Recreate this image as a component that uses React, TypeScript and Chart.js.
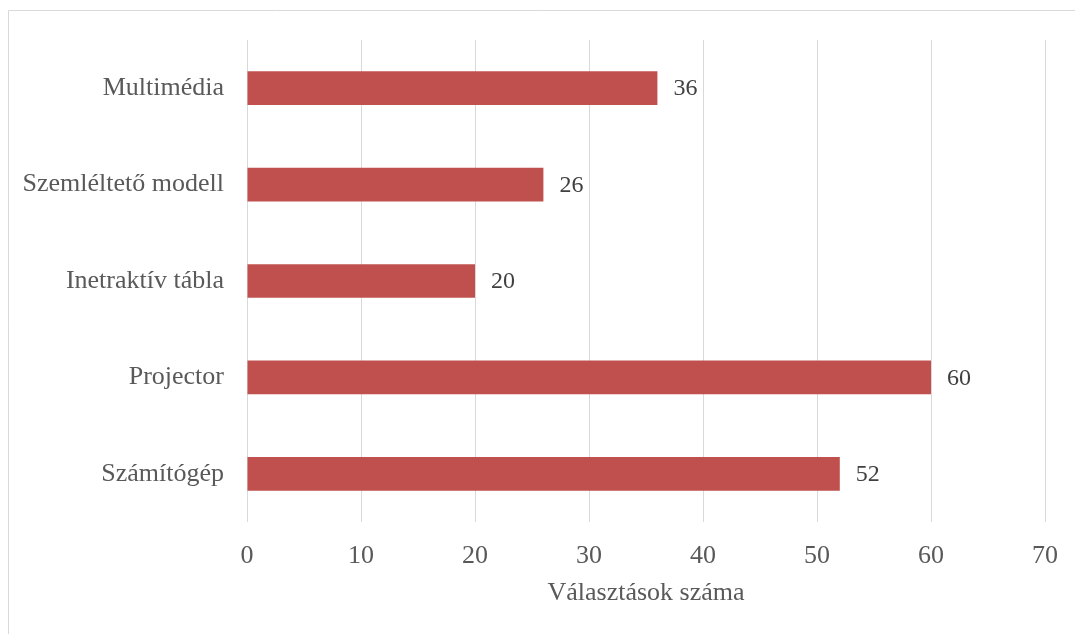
import React, { useEffect, useRef } from "react";
import { Chart, registerables } from "chart.js";

Chart.register(...registerables);

const categories = ["Multimédia", "Szemléltető modell", "Inetraktív tábla", "Projector", "Számítógép"];
const values = [36, 26, 20, 60, 52];
const xTicks = [0, 10, 20, 30, 40, 50, 60, 70];
const axisTitle = "Választások száma";

const FONT = '"Liberation Serif", "Times New Roman", serif';

export default function App() {
  const ref = useRef<HTMLCanvasElement | null>(null);
  useEffect(() => {
    if (!ref.current) return;
    const borderPlugin = {
      id: "outerBorder",
      beforeDraw(chart: any) {
        const ctx = chart.ctx;
        ctx.save();
        ctx.strokeStyle = "#d9d9d9";
        ctx.lineWidth = 1;
        ctx.beginPath();
        ctx.moveTo(8.5, 1000);
        ctx.lineTo(8.5, 10.5);
        ctx.lineTo(2000, 10.5);
        ctx.stroke();
        ctx.restore();
      },
    };
    const labelPlugin = {
      id: "barLabels",
      afterDatasetsDraw(chart: any) {
        const ctx = chart.ctx;
        const meta = chart.getDatasetMeta(0);
        ctx.save();
        ctx.font = `24px ${FONT}`;
        ctx.fillStyle = "#404040";
        ctx.textAlign = "left";
        ctx.textBaseline = "middle";
        meta.data.forEach((bar: any, i: number) => {
          ctx.fillText(String(values[i]), bar.x + 16, bar.y + 1);
        });
        ctx.restore();
      },
    };
    const chart = new Chart(ref.current, {
      type: "bar",
      data: {
        labels: categories,
        datasets: [
          {
            data: values,
            backgroundColor: "#C0504D",
            categoryPercentage: 1,
            barPercentage: 0.35,
          },
        ],
      },
      options: {
        indexAxis: "y",
        animation: false,
        responsive: false,
        maintainAspectRatio: false,
        layout: { padding: { top: 40, right: 30, bottom: 0, left: 0 } },
        plugins: { legend: { display: false }, tooltip: { enabled: false } },
        scales: {
          x: {
            min: 0,
            max: 70,
            afterBuildTicks: (s: any) => {
              s.ticks = xTicks.map((v) => ({ value: v }));
            },
            afterFit: (s: any) => {
              s.height = 112;
              s.paddingRight = 0;
              s.paddingLeft = 0;
            },
            grid: { color: "#d9d9d9", lineWidth: 1, drawTicks: false },
            border: { display: false },
            ticks: {
              color: "#595959",
              font: { family: FONT, size: 26 },
              padding: 19,
            },
            title: {
              display: true,
              text: axisTitle,
              color: "#595959",
              font: { family: FONT, size: 26 },
              padding: { top: 0, bottom: 25 },
            },
          },
          y: {
            afterFit: (s: any) => {
              s.width = 247;
            },
            grid: { display: false, drawTicks: false },
            border: { display: false },
            ticks: {
              color: "#595959",
              font: { family: FONT, size: 26 },
              padding: 23,
            },
          },
        },
      },
      plugins: [borderPlugin, labelPlugin],
    });
    return () => chart.destroy();
  }, []);
  return (
    <canvas
      ref={ref}
      width={1075}
      height={634}
      style={{ position: "fixed", left: 0, top: 0, width: 1075, height: 634 }}
    />
  );
}
